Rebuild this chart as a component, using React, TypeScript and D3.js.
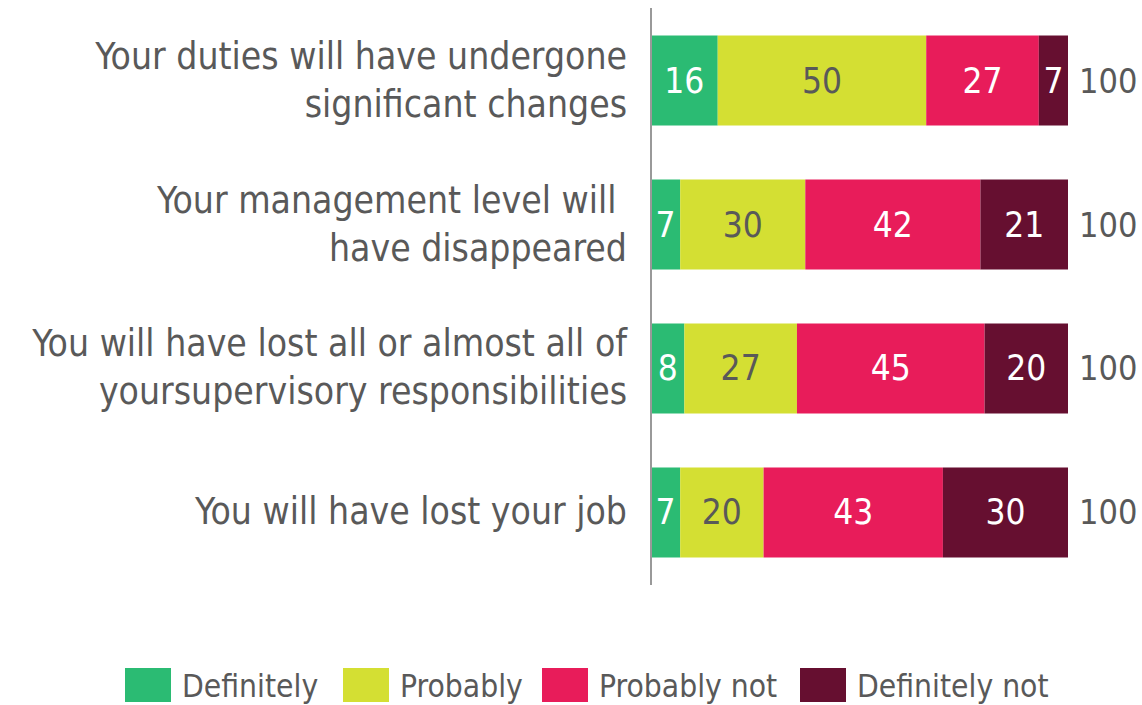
import React from "react";
import * as d3 from "d3";

const categories = [
  ["Your duties will have undergone", "significant changes"],
  ["Your management level will ", "have disappeared"],
  ["You will have lost all or almost all of", "yoursupervisory responsibilities"],
  ["You will have lost your job"],
];
const seriesNames = ["Definitely", "Probably", "Probably not", "Definitely not"];
const definitely = [16, 7, 8, 7];
const probably = [50, 30, 27, 20];
const probablyNot = [27, 42, 45, 43];
const definitelyNot = [7, 21, 20, 30];
const totals = [100, 100, 100, 100];

const colors = ["#2BBB73", "#D4DF33", "#E81C5A", "#660F30"];
const labelColors = ["#ffffff", "#595959", "#ffffff", "#ffffff"];
const FONT = "'DejaVu Sans Condensed', 'Liberation Sans Narrow', sans-serif";
const GREY = "#595959";

export default function App() {
  const W = 1142, H = 705;
  const series = [definitely, probably, probablyNot, definitelyNot];
  const idx = categories.map((_, i) => i);
  const x = d3.scaleLinear().domain([0, 100]).range([651, 1068]);
  const y = d3.scaleBand<number>().domain(idx).range([8, 585]).paddingInner(0.375).paddingOuter(0.191);
  const rows = idx.map((i) => {
    let acc = 0;
    return series.map((s, k) => {
      const x0 = acc;
      acc += s[i];
      return { k, x0, x1: acc, v: s[i] };
    });
  });
  const legendX = [125, 343, 542, 800];
  return (
    <svg width={W} height={H} style={{ position: "absolute", left: 0, top: 0, background: "#fff" }} fontFamily={FONT}>
      {idx.map((i) => {
        const cy = (y(i) as number) + y.bandwidth() / 2;
        const lines = categories[i];
        const lh = 48;
        return (
          <g key={i}>
            {rows[i].map((d) => (
              <g key={d.k}>
                <rect x={x(d.x0)} y={y(i)} width={x(d.x1) - x(d.x0)} height={y.bandwidth()} fill={colors[d.k]} />
                <text x={(x(d.x0) + x(d.x1)) / 2} y={cy + 12} textAnchor="middle" fontSize={35} fill={labelColors[d.k]}>
                  {d.v}
                </text>
              </g>
            ))}
            <text x={1079} y={cy + 12} fontSize={34} fill={GREY}>{totals[i]}</text>
            {lines.map((ln, j) => (
              <text key={j} x={627} y={cy + 12 + (j - (lines.length - 1) / 2) * lh} textAnchor="end" fontSize={37} fill={GREY} style={{ whiteSpace: "pre" }}>
                {ln}
              </text>
            ))}
          </g>
        );
      })}
      <line x1={651} x2={651} y1={8} y2={585} stroke="#999" strokeWidth={2} />
      {seriesNames.map((n, k) => (
        <g key={n}>
          <rect x={legendX[k]} y={668} width={46} height={34} fill={colors[k]} />
          <text x={legendX[k] + 57} y={697} fontSize={31.5} fill={GREY}>{n}</text>
        </g>
      ))}
    </svg>
  );
}
